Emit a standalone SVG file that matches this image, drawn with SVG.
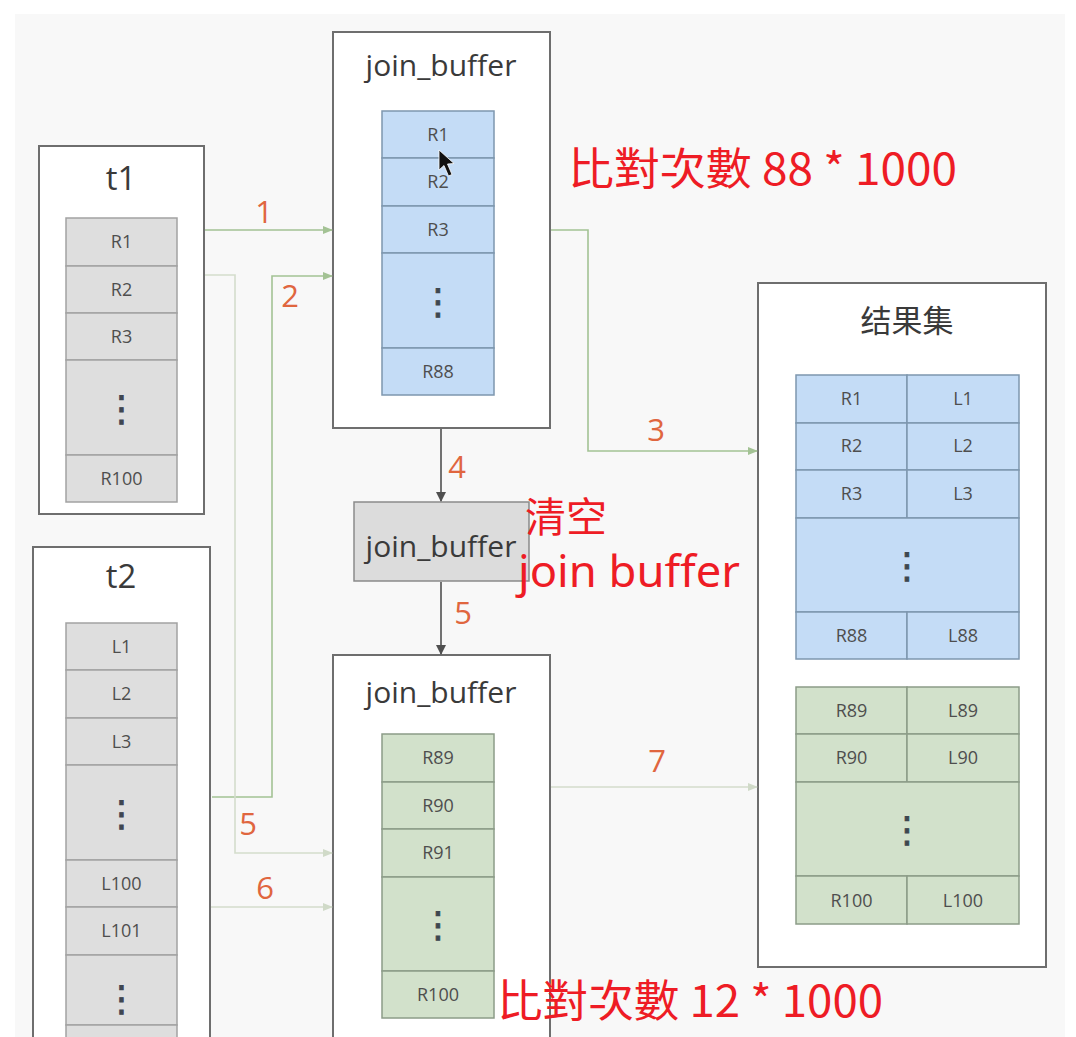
<svg xmlns="http://www.w3.org/2000/svg" width="1076" height="1037" viewBox="0 0 1076 1037">
<defs>
<style>
.box{fill:#fff;stroke:#6e6e6e;stroke-width:2}
.gc{fill:#dedede;stroke:#a2a2a2;stroke-width:1.5}
.bc{fill:#c4dcf6;stroke:#7e97ae;stroke-width:1.5}
.nc{fill:#d2e1cb;stroke:#8c9c88;stroke-width:1.5}
.ct{font-family:"Open Sans","Noto Sans",sans-serif;font-size:18px;fill:#4e4e4e;text-anchor:middle}
.dot{font-family:"DejaVu Sans",sans-serif;font-size:36px;fill:#3e4650;stroke:#3e4650;stroke-width:0.8;text-anchor:middle}
.ti{font-family:"Open Sans","Noto Sans",sans-serif;font-size:30px;fill:#3a3a3a;text-anchor:middle}
.cj{font-family:"Noto Sans CJK SC",sans-serif;font-size:31px;fill:#3a3a3a;text-anchor:middle}
.num{font-family:"Open Sans","Noto Sans",sans-serif;font-size:31px;fill:#e0663f;text-anchor:middle}
.red{font-family:"Noto Sans CJK TC","Noto Sans CJK SC",sans-serif;fill:#ee1c25}
.g1{fill:none;stroke:#a3c294;stroke-width:1.6}
.g2{fill:none;stroke:#d4ddcc;stroke-width:1.6}
.dk{fill:none;stroke:#505050;stroke-width:1.6}
</style>
<marker id="ag1" markerWidth="10" markerHeight="8" refX="9" refY="4" orient="auto" markerUnits="userSpaceOnUse"><path d="M0,0 L10,4 L0,8 z" fill="#a3c294"/></marker>
<marker id="ag2" markerWidth="10" markerHeight="8" refX="9" refY="4" orient="auto" markerUnits="userSpaceOnUse"><path d="M0,0 L10,4 L0,8 z" fill="#d0dac8"/></marker>
<marker id="adk" markerWidth="10" markerHeight="10" refX="9" refY="5" orient="auto" markerUnits="userSpaceOnUse"><path d="M0,0 L10,5 L0,10 z" fill="#505050"/></marker>
</defs>
<rect x="0" y="0" width="1076" height="1037" fill="#fff"/>
<rect x="15" y="14" width="1050" height="1023" fill="#f8f8f8"/>

<g id="t1">
<rect class="box" x="39" y="146" width="165" height="368"/>
<text class="ti" x="121" y="190" style="font-size:33px">t1</text>
<rect class="gc" x="66" y="218" width="111" height="48"/>
<rect class="gc" x="66" y="266" width="111" height="47"/>
<rect class="gc" x="66" y="313" width="111" height="47"/>
<rect class="gc" x="66" y="360" width="111" height="95"/>
<rect class="gc" x="66" y="455" width="111" height="47"/>
<text class="ct" x="121.5" y="248">R1</text>
<text class="ct" x="121.5" y="296">R2</text>
<text class="ct" x="121.5" y="343">R3</text>
<text class="dot" x="121.5" y="421">⋮</text>
<text class="ct" x="121.5" y="485">R100</text>
</g>

<g id="t2">
<rect class="box" x="33" y="547" width="177" height="500"/>
<text class="ti" x="121" y="588" style="font-size:33px">t2</text>
<rect class="gc" x="66" y="623" width="111" height="47"/>
<rect class="gc" x="66" y="670" width="111" height="48"/>
<rect class="gc" x="66" y="718" width="111" height="47"/>
<rect class="gc" x="66" y="765" width="111" height="95"/>
<rect class="gc" x="66" y="860" width="111" height="47"/>
<rect class="gc" x="66" y="907" width="111" height="48"/>
<rect class="gc" x="66" y="955" width="111" height="70"/>
<rect class="gc" x="66" y="1025" width="111" height="30"/>
<text class="ct" x="121.5" y="653">L1</text>
<text class="ct" x="121.5" y="700">L2</text>
<text class="ct" x="121.5" y="748">L3</text>
<text class="dot" x="121.5" y="826">⋮</text>
<text class="ct" x="121.5" y="890">L100</text>
<text class="ct" x="121.5" y="937">L101</text>
<text class="dot" x="121.5" y="1011">⋮</text>
</g>

<g id="join_buffer_top">
<rect class="box" x="333" y="32" width="217" height="396"/>
<text class="ti" x="441" y="76">join_buffer</text>
<rect class="bc" x="382" y="111" width="112" height="47"/>
<rect class="bc" x="382" y="158" width="112" height="48"/>
<rect class="bc" x="382" y="206" width="112" height="47"/>
<rect class="bc" x="382" y="253" width="112" height="95"/>
<rect class="bc" x="382" y="348" width="112" height="47"/>
<text class="ct" x="438" y="141">R1</text>
<text class="ct" x="438" y="188">R2</text>
<text class="ct" x="438" y="236">R3</text>
<text class="dot" x="438" y="314">⋮</text>
<text class="ct" x="438" y="378">R88</text>
<path d="M439,150 L439,170 L444,165.5 L448.5,176 L452,174.5 L447.5,164 L454,163.5 Z" fill="#111" stroke="#fff" stroke-width="0.8"/>
</g>

<g id="join_buffer_clear">
<rect x="354" y="502" width="175" height="79" fill="#dcdcdc" stroke="#8a8a8a" stroke-width="1.5"/>
<text class="ti" x="441" y="557">join_buffer</text>
</g>

<g id="join_buffer_bottom">
<rect class="box" x="333" y="655" width="217" height="400"/>
<text class="ti" x="441" y="703">join_buffer</text>
<rect class="nc" x="382" y="734" width="112" height="48"/>
<rect class="nc" x="382" y="782" width="112" height="47"/>
<rect class="nc" x="382" y="829" width="112" height="48"/>
<rect class="nc" x="382" y="877" width="112" height="94"/>
<rect class="nc" x="382" y="971" width="112" height="47"/>
<text class="ct" x="438" y="764">R89</text>
<text class="ct" x="438" y="812">R90</text>
<text class="ct" x="438" y="859">R91</text>
<text class="dot" x="438" y="937">⋮</text>
<text class="ct" x="438" y="1001">R100</text>
</g>

<g id="result">
<rect class="box" x="758" y="283" width="288" height="684"/>
<text class="cj" x="907" y="332">结果集</text>
<rect class="bc" x="796" y="375" width="111" height="48"/>
<rect class="bc" x="907" y="375" width="112" height="48"/>
<rect class="bc" x="796" y="423" width="111" height="47"/>
<rect class="bc" x="907" y="423" width="112" height="47"/>
<rect class="bc" x="796" y="470" width="111" height="48"/>
<rect class="bc" x="907" y="470" width="112" height="48"/>
<rect class="bc" x="796" y="518" width="223" height="94"/>
<rect class="bc" x="796" y="612" width="111" height="47"/>
<rect class="bc" x="907" y="612" width="112" height="47"/>
<text class="ct" x="851.5" y="405">R1</text>
<text class="ct" x="963" y="405">L1</text>
<text class="ct" x="851.5" y="452">R2</text>
<text class="ct" x="963" y="452">L2</text>
<text class="ct" x="851.5" y="500">R3</text>
<text class="ct" x="963" y="500">L3</text>
<text class="dot" x="907" y="578">⋮</text>
<text class="ct" x="851.5" y="642">R88</text>
<text class="ct" x="963" y="642">L88</text>
<rect class="nc" x="796" y="687" width="111" height="47"/>
<rect class="nc" x="907" y="687" width="112" height="47"/>
<rect class="nc" x="796" y="734" width="111" height="48"/>
<rect class="nc" x="907" y="734" width="112" height="48"/>
<rect class="nc" x="796" y="782" width="223" height="94"/>
<rect class="nc" x="796" y="876" width="111" height="48"/>
<rect class="nc" x="907" y="876" width="112" height="48"/>
<text class="ct" x="851.5" y="717">R89</text>
<text class="ct" x="963" y="717">L89</text>
<text class="ct" x="851.5" y="764">R90</text>
<text class="ct" x="963" y="764">L90</text>
<text class="dot" x="907" y="842">⋮</text>
<text class="ct" x="851.5" y="907">R100</text>
<text class="ct" x="963" y="907">L100</text>
</g>

<g id="connectors">
<path class="g1" d="M205,230 H332" marker-end="url(#ag1)"/>
<path class="g1" d="M212,797 H272 V276 H332" marker-end="url(#ag1)"/>
<path class="g1" d="M551,230 H588 V451 H757" marker-end="url(#ag1)"/>
<path class="g2" d="M205,275 H235 V853 H332" marker-end="url(#ag2)"/>
<path class="g2" d="M211,907 H332" marker-end="url(#ag2)"/>
<path class="g2" d="M551,787 H757" marker-end="url(#ag2)"/>
<path class="dk" d="M441,429 V501" marker-end="url(#adk)"/>
<path class="dk" d="M441,582 V654" marker-end="url(#adk)"/>
<text class="num" x="264" y="223">1</text>
<text class="num" x="290" y="307">2</text>
<text class="num" x="656" y="441">3</text>
<text class="num" x="457" y="478">4</text>
<text class="num" x="463" y="624">5</text>
<text class="num" x="248" y="835">5</text>
<text class="num" x="265" y="899">6</text>
<text class="num" x="657" y="772">7</text>
</g>

<g id="notes">
<text class="red" x="568" y="185" style="font-size:44px" textLength="389" lengthAdjust="spacingAndGlyphs">比對次數 88 * 1000</text>
<text class="red" x="525" y="532" style="font-size:41px;font-family:'Noto Sans CJK SC',sans-serif">清空</text>
<text class="red" x="518" y="587" style="font-size:43px;font-family:'Noto Sans','Noto Sans CJK SC',sans-serif" textLength="222" lengthAdjust="spacingAndGlyphs">join buffer</text>
<text class="red" x="497" y="1017" style="font-size:44px" textLength="386" lengthAdjust="spacingAndGlyphs">比對次數 12 * 1000</text>
</g>
</svg>
